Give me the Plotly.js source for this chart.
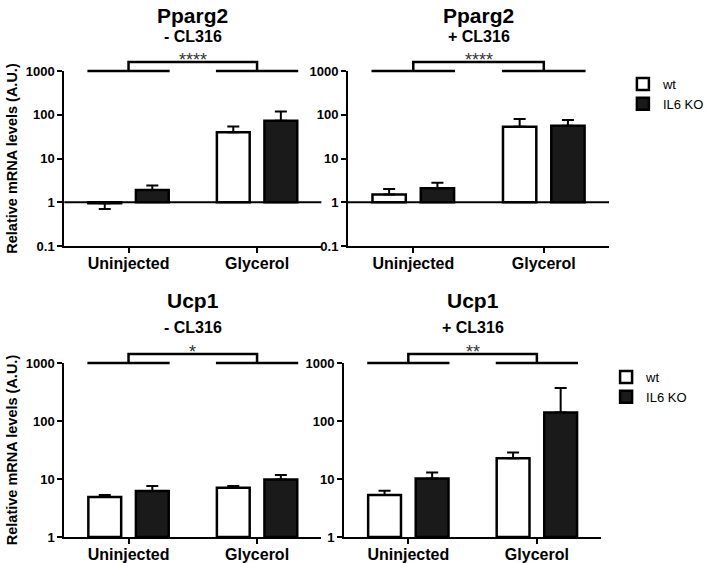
<!DOCTYPE html>
<html>
<head>
<meta charset="utf-8">
<script src="https://cdn.plot.ly/plotly-3.0.1.min.js"></script>
<style>
  body { margin: 0; background: #fff; }
  #chart { width: 709px; height: 563px; }
</style>
</head>
<body>
<div id="chart"></div>
<script>
// Dane wejściowe
const categories = ['Uninjected', 'Glycerol'];

const ppargMinusWt = [0.95, 40];
const ppargMinusWtErr = [0.25, 14];
const ppargMinusKo = [1.9, 73];
const ppargMinusKoErr = [0.5, 45];

const ppargPlusWt = [1.5, 53];
const ppargPlusWtErr = [0.5, 27];
const ppargPlusKo = [2.1, 56];
const ppargPlusKoErr = [0.7, 20];

const ucpMinusWt = [4.9, 7.1];
const ucpMinusWtErr = [0.4, 0.5];
const ucpMinusKo = [6.2, 9.8];
const ucpMinusKoErr = [1.4, 1.9];

const ucpPlusWt = [5.3, 22.7];
const ucpPlusWtErr = [1.0, 6];
const ucpPlusKo = [10.2, 140];
const ucpPlusKoErr = [2.8, 230];

const panelTitles = [['Pparg2', '- CL316'], ['Pparg2', '+ CL316'], ['Ucp1', '- CL316'], ['Ucp1', '+ CL316']];
const stars = ['****', '****', '*', '**'];
const tickVals = [0.1, 1, 10, 100, 1000];
const tickText = ['0.1', '1', '10', '100', '1000'];
const seriesNames = ['wt', 'IL6 KO'];

// Układ (piksele)
const W = 709, H = 563;
const FONT = 'Arial, "Liberation Sans", sans-serif';
const xRange = [-0.5, 1.5];
const panels = [
  { x: [65, 325], y: [71, 246], range: [-1, 3], title: [15, 36] },
  { x: [352, 616], y: [71, 246], range: [-1, 3], title: [15, 36] },
  { x: [65, 325], y: [363, 537], range: [0, 3], title: [300, 327] },
  { x: [348, 608], y: [363, 537], range: [0, 3], title: [300, 327] }
];

function catPx(p, c) {
  return p.x[0] + (c - xRange[0]) / (xRange[1] - xRange[0]) * (p.x[1] - p.x[0]);
}
function logPx(p, v) {
  const f = (Math.log10(v) - p.range[0]) / (p.range[1] - p.range[0]);
  return p.y[1] - f * (p.y[1] - p.y[0]);
}
const px = v => v / W;
const py = v => 1 - v / H;

function barTrace(n, name, values, errors, color, legend) {
  const s = n === 1 ? '' : String(n);
  return {
    type: 'bar',
    x: categories,
    y: values.map(v => v - 1),
    base: values.map(() => 1), // słupki od poziomu 1
    name: name,
    xaxis: 'x' + s,
    yaxis: 'y' + s,
    marker: { color: color, line: { color: 'black', width: 2.5 } },
    error_y: {
      type: 'data', symmetric: false,
      array: values.map((v, i) => v >= 1 ? errors[i] : 0),
      arrayminus: values.map((v, i) => v < 1 ? errors[i] : 0),
      color: 'black', thickness: 2, width: 6
    },
    showlegend: !!legend,
    legend: legend || 'legend',
    hoverinfo: 'skip'
  };
}

const data = [
  barTrace(1, seriesNames[0], ppargMinusWt, ppargMinusWtErr, 'white'),
  barTrace(1, seriesNames[1], ppargMinusKo, ppargMinusKoErr, '#1a1a1a'),
  barTrace(2, seriesNames[0], ppargPlusWt, ppargPlusWtErr, 'white', 'legend'),
  barTrace(2, seriesNames[1], ppargPlusKo, ppargPlusKoErr, '#1a1a1a', 'legend'),
  barTrace(3, seriesNames[0], ucpMinusWt, ucpMinusWtErr, 'white'),
  barTrace(3, seriesNames[1], ucpMinusKo, ucpMinusKoErr, '#1a1a1a'),
  barTrace(4, seriesNames[0], ucpPlusWt, ucpPlusWtErr, 'white', 'legend2'),
  barTrace(4, seriesNames[1], ucpPlusKo, ucpPlusKoErr, '#1a1a1a', 'legend2')
];

const layout = {
  width: W,
  height: H,
  margin: { t: 0, r: 0, b: 0, l: 0 },
  paper_bgcolor: 'white',
  plot_bgcolor: 'rgba(0,0,0,0)',
  font: { family: FONT, color: 'black' },
  barmode: 'group',
  bargap: 0.26,
  bargroupgap: 0.31,
  shapes: [],
  annotations: [],
  legend: {
    x: px(630), y: py(69), xanchor: 'left', yanchor: 'top',
    font: { size: 13, family: FONT }, bgcolor: 'rgba(0,0,0,0)', traceorder: 'normal'
  },
  legend2: {
    x: px(613), y: py(362), xanchor: 'left', yanchor: 'top',
    font: { size: 13, family: FONT }, bgcolor: 'rgba(0,0,0,0)', traceorder: 'normal'
  }
};

panels.forEach((p, i) => {
  const s = i === 0 ? '' : String(i + 1);
  layout['xaxis' + s] = {
    domain: [px(p.x[0]), px(p.x[1])],
    anchor: 'y' + s,
    type: 'category',
    range: xRange,
    showline: true, linecolor: 'black', linewidth: 2,
    ticks: 'outside', ticklen: 5, tickwidth: 2, tickcolor: 'black',
    ticklabelstandoff: -3,
    showgrid: false, zeroline: false, fixedrange: true,
    tickfont: { size: 16, weight: 'bold' }
  };
  layout['yaxis' + s] = {
    domain: [py(p.y[1]), py(p.y[0])],
    anchor: 'x' + s,
    type: 'log',
    range: p.range,
    tickvals: tickVals,
    ticktext: tickText,
    showline: true, linecolor: 'black', linewidth: 2,
    ticks: 'outside', ticklen: 5, tickwidth: 2, tickcolor: 'black',
    showgrid: false, zeroline: false, fixedrange: true,
    tickfont: { size: 13, weight: 'bold' },
    title: (i % 2 === 0) ? { text: 'Relative mRNA levels (A.U.)', font: { size: 14.5, weight: 'bold' }, standoff: 5 } : undefined
  };

  const line = { color: 'black', width: 2.5 };
  // linia poziomu 1
  if (p.range[0] < 0) {
    layout.shapes.push({ type: 'line', xref: 'paper', yref: 'paper',
      x0: px(p.x[0]), x1: px(p.x[1]), y0: py(logPx(p, 1)), y1: py(logPx(p, 1)), line: { color: 'black', width: 2 } });
  }
  // klamry istotności
  const top = logPx(p, 1000);
  const brTop = top - 9;
  [0, 1].forEach(c => {
    layout.shapes.push({ type: 'line', xref: 'paper', yref: 'paper',
      x0: px(catPx(p, c - 0.32)), x1: px(catPx(p, c + 0.32)), y0: py(top), y1: py(top), line: line });
  });
  layout.shapes.push({ type: 'path', xref: 'paper', yref: 'paper',
    path: 'M' + px(catPx(p, 0)) + ',' + py(top) + ' L' + px(catPx(p, 0)) + ',' + py(brTop) +
          ' L' + px(catPx(p, 1)) + ',' + py(brTop) + ' L' + px(catPx(p, 1)) + ',' + py(top),
    line: line });
  layout.annotations.push({ xref: 'paper', yref: 'paper', x: px(catPx(p, 0.5)), y: py(brTop + 10),
    xanchor: 'center', yanchor: 'bottom', text: stars[i], showarrow: false,
    font: { size: 18, color: '#333' } });

  // tytuły paneli
  const cx = px((p.x[0] + p.x[1]) / 2);
  layout.annotations.push({ xref: 'paper', yref: 'paper', x: cx, y: py(p.title[0]),
    xanchor: 'center', yanchor: 'middle', text: panelTitles[i][0], showarrow: false,
    font: { size: 21, weight: 'bold' } });
  layout.annotations.push({ xref: 'paper', yref: 'paper', x: cx, y: py(p.title[1]),
    xanchor: 'center', yanchor: 'middle', text: panelTitles[i][1], showarrow: false,
    font: { size: 16, weight: 'bold' } });
});

Plotly.newPlot('chart', data, layout, { displayModeBar: false, staticPlot: true });
</script>
</body>
</html>
